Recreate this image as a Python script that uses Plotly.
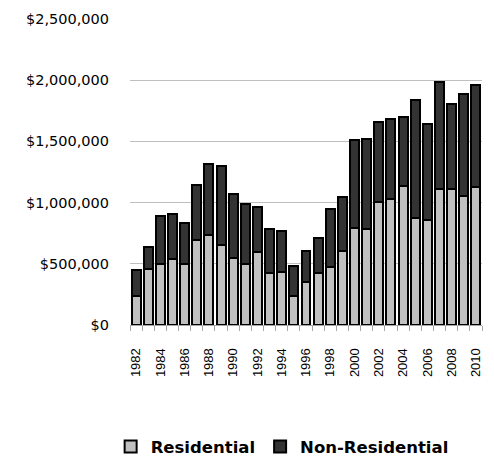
import plotly.graph_objects as go

years = list(range(1982, 2011))

residential = [
    234000, 455000, 496000, 542000, 496000, 694000, 735000, 654000,
    550000, 496000, 599000, 422000, 430000, 237000, 349000, 422000,
    476000, 605000, 795000, 784000, 1005000, 1029000, 1138000, 871000,
    855000, 1114000, 1114000, 1054000, 1130000,
]

total = [
    449000, 637000, 893000, 907000, 831000, 1141000, 1318000, 1295000,
    1073000, 989000, 967000, 787000, 771000, 485000, 605000, 713000,
    948000, 1046000, 1509000, 1520000, 1658000, 1680000, 1699000, 1836000,
    1645000, 1988000, 1806000, 1887000, 1961000,
]

non_residential = [t - r for t, r in zip(total, residential)]

year_labels = [str(y) for y in range(1982, 2011, 2)]
y_ticks = [0, 500000, 1000000, 1500000, 2000000, 2500000]
y_labels = ["$0", "$500,000", "$1,000,000", "$1,500,000", "$2,000,000", "$2,500,000"]

fig = go.Figure()
fig.add_trace(go.Bar(
    x=years, y=residential, name="Residential",
    marker=dict(color="#C0C0C0", line=dict(color="#000000", width=2)),
))
fig.add_trace(go.Bar(
    x=years, y=non_residential, name="Non-Residential",
    marker=dict(color="#333333", line=dict(color="#000000", width=2)),
))

fig.update_layout(
    width=494, height=456,
    margin=dict(l=130, r=12, t=19, b=131, autoexpand=False),
    barmode="stack",
    bargap=0.26,
    plot_bgcolor="white",
    paper_bgcolor="white",
    showlegend=True,
    legend=dict(
        orientation="h", x=-0.055, xanchor="left", y=-0.455, yanchor="bottom",
        font=dict(family="DejaVu Sans", size=16.5, color="#000000", weight="bold"),
        itemwidth=30, traceorder="normal", tracegroupgap=0,
    ),
    xaxis=dict(
        range=[1981.5, 2010.5],
        tickvals=list(range(1982, 2011, 2)),
        ticktext=year_labels,
        tickangle=-90,
        ticks="",
        ticklabelstandoff=17,
        tickfont=dict(family="Liberation Sans", size=13, color="#000000"),
        showline=True, linecolor="#A6A6A6", linewidth=1,
        showgrid=False,
        minor=dict(ticks="outside", tick0=1981.5, dtick=1, ticklen=5,
                   tickcolor="#A6A6A6", showgrid=False),
    ),
    yaxis=dict(
        range=[0, 2500000],
        tickvals=y_ticks,
        ticktext=y_labels,
        ticks="",
        ticklabelstandoff=20,
        tickfont=dict(family="DejaVu Sans", size=14.5, color="#000000"),
        showgrid=True, gridcolor="#BFBFBF", gridwidth=1,
        zeroline=False, showline=False,
    ),
)

fig.write_html("out.html")
